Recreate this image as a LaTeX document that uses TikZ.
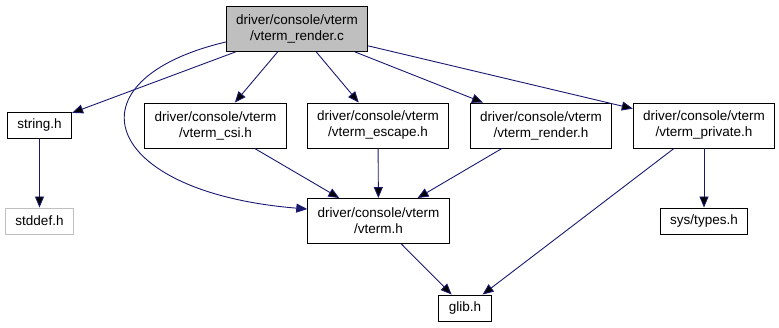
\documentclass[tikz,border=0pt]{standalone}
\usepackage{fontspec}
\setmainfont{Liberation Sans}
\usetikzlibrary{arrows.meta}
\usepackage{xcolor}
\definecolor{edgeblue}{HTML}{191970}
\definecolor{boxgray}{HTML}{BFBFBF}

\begin{document}
\begin{tikzpicture}[x=1pt, y=-1pt, >={Triangle[length=11pt, width=9pt]}]
				\tikzstyle{file} = [draw=black, line width=0.9pt, rectangle, align=center, inner xsep=10pt, inner ysep=1pt, font=\fontsize{13.5}{16}\selectfont]
				\tikzstyle{single} = [file, minimum height=26pt]
				\tikzstyle{double} = [file, minimum height=45pt, minimum width=139pt]
				\tikzstyle{missing} = [single, draw=boxgray]
				\tikzstyle{dep} = [draw=edgeblue, line width=0.9pt]
				
				\useasboundingbox (0,0) rectangle (779,328);
				
				\node[double, fill=boxgray, minimum width=140pt]	at (297, 29)	(f0)	{driver/console/vterm\\/vterm\_render.c};
				\node[single] 			at (39.5, 125)		(f1) 	{string.h};
				\node[double] 			at (215.5, 125.5)	(f2) 	{driver/console/vterm\\/vterm\_csi.h};
				\node[double] 			at (378, 125.5)		(f3) 	{driver/console/vterm\\/vterm\_escape.h};
				\node[double] 			at (541, 125.5)		(f4) 	{driver/console/vterm\\/vterm\_render.h};
				\node[double] 			at (704, 125.5)		(f5) 	{driver/console/vterm\\/vterm\_private.h};
				\node[missing] 			at (39.5, 221)		(f6) 	{stddef.h};
				\node[double] 			at (378.5, 221)		(f7) 	{driver/console/vterm\\/vterm.h};
				\node[single] 			at (704, 221)		(f8) 	{sys/types.h};
				\node[single] 			at (465, 308)		(f9) 	{glib.h};
				
				\path[->, dep]
				(f0)	edge	(f1)
				(f0)	edge	(f2)
				(f0)	edge	(f3)
				(f0)	edge	(f4)
				(f0)	edge	(f5)
				(f1)	edge	(f6)
				(f2)	edge	(f7)
				(f3)	edge	(f7)
				(f4)	edge	(f7)
				(f5)	edge	(f8)
				(f5)	edge	(f9)
				(f7)	edge	(f9);
				
				% direct include of vterm.h, bent round the left side
				\draw[->, dep] ([yshift=-13pt]f0.west) .. controls (65, 80) and (100, 192) .. ([yshift=-11pt]f7.north west);
			\end{tikzpicture}
\end{document}
